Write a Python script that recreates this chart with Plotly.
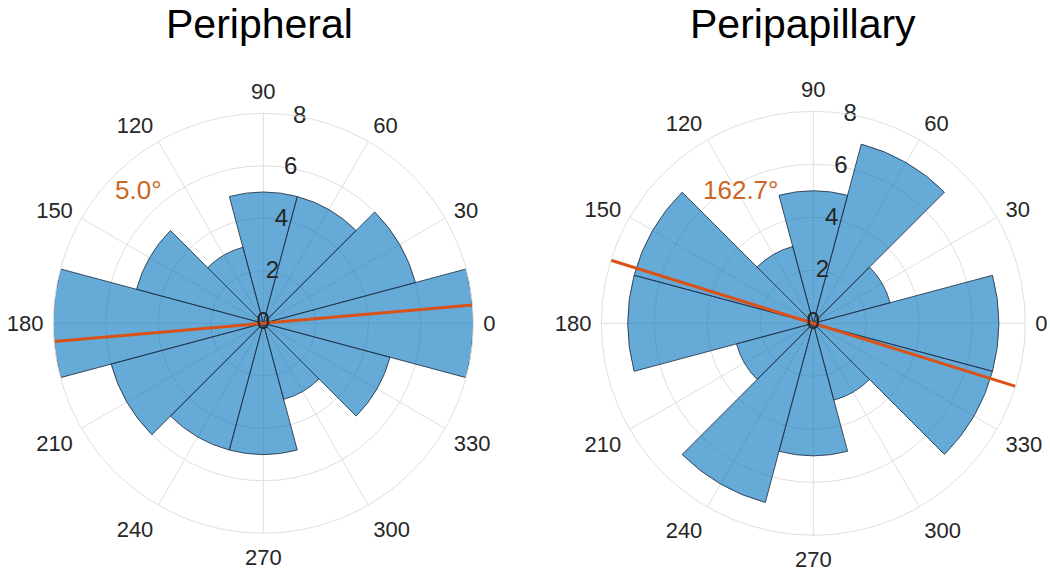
import plotly.graph_objects as go

# Data
bin_centers = [0, 30, 60, 90, 120, 150, 180, 210, 240, 270, 300, 330]
peripheral_counts = [8, 6, 5, 5, 3, 5, 8, 6, 5, 5, 3, 5]
peripapillary_counts = [7, 3, 7, 5, 3, 7, 7, 3, 7, 5, 3, 7]
peripheral_mean_axis = 5.0
peripapillary_mean_axis = 162.7
titles = ["Peripheral", "Peripapillary"]
angular_ticks = [0, 30, 60, 90, 120, 150, 180, 210, 240, 270, 300, 330]
radial_ticks = [0, 2, 4, 6, 8]
r_max = 8

FONT = "Arial, Liberation Sans, Helvetica, sans-serif"
BAR_FILL = "rgba(0,114,189,0.6)"
BAR_EDGE = "rgba(35,50,70,0.85)"
ORANGE = "#D95319"
ORANGE_TXT = "#CC6622"
TXT = "#262626"
GRID = "#DFDFDF"

fig = go.Figure()

for i, (counts, mean_ang) in enumerate([(peripheral_counts, peripheral_mean_axis),
                                         (peripapillary_counts, peripapillary_mean_axis)]):
    pol = "polar" if i == 0 else "polar2"
    fig.add_trace(go.Barpolar(
        r=counts, theta=bin_centers, width=[30] * len(bin_centers),
        marker=dict(color=BAR_FILL, line=dict(color=BAR_EDGE, width=1)),
        subplot=pol, showlegend=False, hoverinfo="r+theta"))
    fig.add_trace(go.Scatterpolar(
        r=[r_max, 0, r_max], theta=[mean_ang, mean_ang, mean_ang + 180],
        mode="lines", line=dict(color=ORANGE, width=3),
        subplot=pol, showlegend=False))
    fig.add_trace(go.Scatterpolar(
        r=radial_ticks, theta=[80] * len(radial_ticks),
        text=[str(v) for v in radial_ticks], mode="text",
        textfont=dict(family=FONT, size=24, color=TXT),
        textposition="middle center",
        subplot=pol, showlegend=False, hoverinfo="skip"))

def polar_layout(xdom, ydom):
    return dict(
        domain=dict(x=xdom, y=ydom),
        bgcolor="white",
        angularaxis=dict(
            rotation=0, direction="counterclockwise",
            tickmode="array", tickvals=angular_ticks,
            ticktext=[str(v) for v in angular_ticks],
            tickfont=dict(family=FONT, size=22, color=TXT),
            showgrid=True, gridcolor=GRID, gridwidth=1,
            showline=True, linecolor=GRID, linewidth=1,
            ticks="outside", ticklen=5, tickcolor="rgba(0,0,0,0)"),
        radialaxis=dict(
            range=[0, r_max], tickmode="array", tickvals=radial_ticks,
            showticklabels=False, ticks="", showline=False,
            showgrid=True, gridcolor=GRID, gridwidth=1, angle=80),
    )

W, H = 1050, 576
def dom(cx, cy, r):
    return [(cx - r) / W, (cx + r) / W], [(H - cy - r) / H, (H - cy + r) / H]

x1, y1 = dom(263.3, 323.3, 210)
x2, y2 = dom(813.3, 323.3, 212)

fig.update_layout(
    width=W, height=H,
    margin=dict(l=0, r=0, t=0, b=0),
    paper_bgcolor="white",
    polar=polar_layout(x1, y1),
    polar2=polar_layout(x2, y2),
    font=dict(family=FONT, color=TXT),
    annotations=[
        dict(text=titles[0], x=259 / W, y=1 - 24 / H, xref="paper", yref="paper",
             showarrow=False, font=dict(family=FONT, size=41, color="black"),
             xanchor="center", yanchor="middle"),
        dict(text=titles[1], x=803 / W, y=1 - 24 / H, xref="paper", yref="paper",
             showarrow=False, font=dict(family=FONT, size=41, color="black"),
             xanchor="center", yanchor="middle"),
        dict(text=f"{peripheral_mean_axis:.1f}°", x=138 / W, y=1 - 190 / H,
             xref="paper", yref="paper", showarrow=False,
             font=dict(family=FONT, size=26, color=ORANGE_TXT),
             xanchor="center", yanchor="middle"),
        dict(text=f"{peripapillary_mean_axis:.1f}°", x=740 / W, y=1 - 190 / H,
             xref="paper", yref="paper", showarrow=False,
             font=dict(family=FONT, size=26, color=ORANGE_TXT),
             xanchor="center", yanchor="middle"),
    ],
)

fig.write_html("out.html", config={"displayModeBar": False},
               post_script="document.body.style.margin='0';")
